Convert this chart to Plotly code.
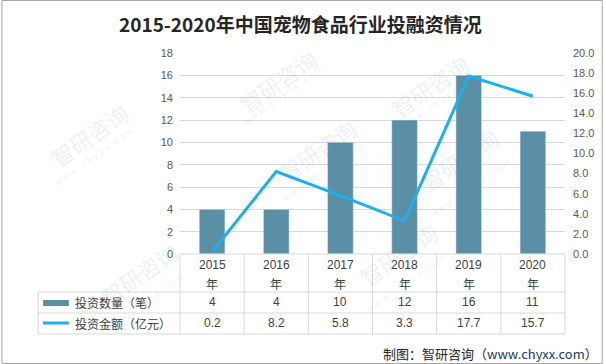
import plotly.graph_objects as go

years = ["2015", "2016", "2017", "2018", "2019", "2020"]
counts = [4, 4, 10, 12, 16, 11]
amounts = [0.2, 8.2, 5.8, 3.3, 17.7, 15.7]
amount_labels = ["0.2", "8.2", "5.8", "3.3", "17.7", "15.7"]
series_names = ["投资数量（笔）", "投资金额（亿元）"]
title = "2015-2020年中国宠物食品行业投融资情况"
source_a = "制图：智研咨询（"
source_b = "www.chyxx.com"
source_c = "）"

W, H = 606, 364
L, R, T, B = 180, 568, 53, 254
BAR_C = "#5B8FA6"
LINE_C = "#1DB1E9"
CJK = "Noto Sans CJK SC, Microsoft YaHei, sans-serif"
NUM = "Liberation Sans, Arial, sans-serif"


def px(x):
    return (x - L) / (R - L)


def py(y):
    return (B - y) / (B - T)


fig = go.Figure()
fig.add_trace(go.Bar(x=years, y=counts, marker_color=BAR_C, width=0.4,
                     name=series_names[0], showlegend=False, hoverinfo="skip"))
fig.add_trace(go.Scatter(x=years, y=amounts, mode="lines", yaxis="y2",
                         line=dict(color=LINE_C, width=3), name=series_names[1],
                         showlegend=False, hoverinfo="skip"))

shapes = []
line_c = "#D9D9D9"
for y, x0 in [(B, L), (292, 37), (313, 37), (334, 37)]:
    shapes.append(dict(type="line", xref="paper", yref="paper", x0=px(x0), x1=px(R),
                       y0=py(y), y1=py(y), line=dict(color=line_c, width=1)))
n = len(years)
for i in range(n + 1):
    x = L + (R - L) * i / n
    shapes.append(dict(type="line", xref="paper", yref="paper", x0=px(x), x1=px(x),
                       y0=py(B), y1=py(334), line=dict(color=line_c, width=1)))
shapes.append(dict(type="line", xref="paper", yref="paper", x0=px(37), x1=px(37),
                   y0=py(292), y1=py(334), line=dict(color=line_c, width=1)))
shapes.append(dict(type="rect", xref="paper", yref="paper", x0=px(42), x1=px(68),
                   y0=py(300), y1=py(306), fillcolor=BAR_C, line=dict(width=0)))
shapes.append(dict(type="line", xref="paper", yref="paper", x0=px(42), x1=px(68),
                   y0=py(323), y1=py(323), line=dict(color=LINE_C, width=3)))
shapes.append(dict(type="rect", xref="paper", yref="paper", x0=px(0.5), x1=px(W - 0.5),
                   y0=py(0.5), y1=py(H - 0.5), line=dict(color="#A6A6A6", width=1)))

ann = []
ann.append(dict(text="<b>" + title + "</b>", xref="paper", yref="paper", x=px(301), y=py(23),
                showarrow=False, font=dict(family=CJK, size=19, color="#262626"),
                xanchor="center", yanchor="middle"))
for i, yr in enumerate(years):
    for text, yy, fam in [(yr, 265, NUM), ("年", 283, CJK), (str(counts[i]), 302, NUM),
                          (amount_labels[i], 323, NUM)]:
        ann.append(dict(text=text, x=i, xref="x", yref="paper", y=py(yy), showarrow=False,
                        font=dict(family=fam, size=12, color="#404040"), yanchor="middle"))
ann.append(dict(text=series_names[0], xref="paper", yref="paper", x=px(72), y=py(302),
                showarrow=False, xanchor="left", yanchor="middle",
                font=dict(family=CJK, size=12, color="#404040")))
ann.append(dict(text=series_names[1], xref="paper", yref="paper", x=px(72), y=py(323),
                showarrow=False, xanchor="left", yanchor="middle",
                font=dict(family=CJK, size=12, color="#404040")))
ann.append(dict(text=source_a + "<span style='color:#1F3864'>" + source_b + "</span>" + source_c,
                xref="paper", yref="paper", x=px(603), y=py(353),
                showarrow=False, xanchor="right", yanchor="middle",
                font=dict(family=CJK, size=13, color="#262626")))

for (x, y) in [(230, 40), (480, 45), (40, 135), (510, 200), (400, 295), (90, 315), (270, 150)]:
    ann.append(dict(text="智研咨询", xref="paper", yref="paper", x=px(x), y=py(y),
                    showarrow=False, textangle=-35, opacity=0.1,
                    font=dict(family=CJK, size=22, color="#5A7EA8")))
    ann.append(dict(text="w w w . c h y x x . c o m", xref="paper", yref="paper", x=px(x + 8), y=py(y + 22),
                    showarrow=False, textangle=-35, opacity=0.1,
                    font=dict(family=NUM, size=9, color="#5A7EA8")))

fig.update_layout(
    width=W, height=H,
    margin=dict(l=L, r=W - R, t=T, b=H - B),
    paper_bgcolor="white", plot_bgcolor="white",
    xaxis=dict(type="category", range=[-0.5, 5.5], showticklabels=False, showgrid=False,
               zeroline=False, showline=False, ticks=""),
    yaxis=dict(range=[0, 18], dtick=2, showgrid=True, gridcolor=line_c, zeroline=False,
               tickfont=dict(family=NUM, size=11, color="#595959"), ticks="", showline=False,
               ticklabelstandoff=6),
    yaxis2=dict(range=[0, 20], dtick=2, overlaying="y", side="right", showgrid=False,
                zeroline=False, tickformat=".1f",
                tickfont=dict(family=NUM, size=11, color="#595959"), ticks="", showline=False,
                ticklabelstandoff=7),
    shapes=shapes, annotations=ann, showlegend=False,
)

fig.write_html("out.html", config={"displayModeBar": False},
               post_script="document.body.style.margin='0';document.body.style.overflow='hidden';")
